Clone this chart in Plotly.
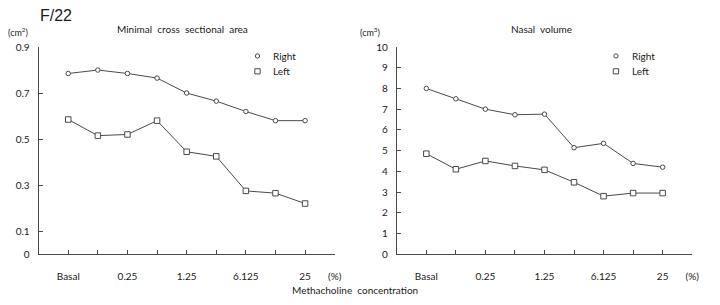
import plotly.graph_objects as go

# ---- data ----
positions = [1, 2, 3, 4, 5, 6, 7, 8, 9]
tick_positions = [1, 3, 5, 7, 9, 10]
tick_labels = ["Basal", "0.25", "1.25", "6.125", "25", "(%)"]

mcsa_right = [0.785, 0.80, 0.785, 0.765, 0.70, 0.665, 0.62, 0.58, 0.58]
mcsa_left = [0.585, 0.515, 0.52, 0.58, 0.445, 0.425, 0.275, 0.265, 0.22]

vol_right = [8.0, 7.5, 7.0, 6.73, 6.76, 5.14, 5.35, 4.38, 4.2]
vol_left = [4.85, 4.1, 4.5, 4.26, 4.07, 3.47, 2.8, 2.95, 2.95]

mcsa_ticks = [0, 0.1, 0.3, 0.5, 0.7, 0.9]
vol_ticks = [0, 1, 2, 3, 4, 5, 6, 7, 8, 9, 10]
series_names = ["Right", "Left"]

FONT = "Lato"
LINE = "#4a4a4a"
W, H = 720, 305
fig = go.Figure()

def add_series(x, y, xa, ya, symbol, size):
    fig.add_trace(go.Scatter(
        x=x, y=y, xaxis=xa, yaxis=ya, mode="lines+markers",
        line=dict(color=LINE, width=1),
        marker=dict(symbol=symbol, size=size, color="white",
                    line=dict(color=LINE, width=1)),
        showlegend=False, hoverinfo="skip"))

add_series(positions, mcsa_right, "x", "y", "circle", 4.5)
add_series(positions, mcsa_left, "x", "y", "square", 5.5)
add_series(positions, vol_right, "x2", "y2", "circle", 4.5)
add_series(positions, vol_left, "x2", "y2", "square", 5.5)

xcommon = dict(range=[0, 10], tickmode="array", tickvals=tick_positions,
               ticktext=tick_labels, ticks="inside", ticklen=4,
               tickcolor=LINE, showline=True, linecolor=LINE, linewidth=1,
               showgrid=False, zeroline=False, ticklabelstandoff=13,
               minor=dict(ticks="inside", ticklen=4, tickcolor=LINE,
                          tick0=0, dtick=1, showgrid=False),
               tickfont=dict(family=FONT, size=10, color="#1a1a1a"))
ycommon = dict(ticks="inside", ticklen=4, tickcolor=LINE, showline=True,
               linecolor=LINE, linewidth=1, showgrid=False, zeroline=False,
               ticklabelstandoff=6,
               tickfont=dict(family=FONT, size=10, color="#1a1a1a"))

fig.update_layout(
    width=W, height=H, margin=dict(l=0, r=0, t=0, b=0),
    paper_bgcolor="white", plot_bgcolor="white", showlegend=False,
    xaxis=dict(domain=[0.0542, 0.4694], anchor="y", **xcommon),
    yaxis=dict(domain=[0.153, 0.86], anchor="x", range=[0, 0.9],
               tickvals=mcsa_ticks, ticktext=["0", "0.1", "0.3", "0.5", "0.7", "0.9"],
               **ycommon),
    xaxis2=dict(domain=[0.5565, 0.9708], anchor="y2", **xcommon),
    yaxis2=dict(domain=[0.153, 0.86], anchor="x2", range=[0, 10],
                tickvals=vol_ticks, **ycommon),
)

def ann(text, x, y, size=10, xanchor="center", family=FONT):
    fig.add_annotation(text=text, x=x / W, y=1 - y / H, xref="paper",
                       yref="paper", showarrow=False, xanchor=xanchor,
                       yanchor="middle",
                       font=dict(family=family, size=size, color="#1a1a1a"))

ann("F/22", 38, 10, size=16, xanchor="left", family="Liberation Sans")
ann("Minimal  cross  sectional  area", 184, 24)
ann("Nasal  volume", 547, 24)
ann("(cm<sup>2</sup>)", 6, 27, size=9, xanchor="left")
ann("(cm<sup>3</sup>)", 362, 27, size=9, xanchor="left")
ann("Methacholine  concentration", 358, 296)

# legend keys (symbol + label) for each panel
for lx in (260, 622):
    for i, name in enumerate(series_names):
        cy = 52 + 16 * i
        if name == "Right":
            fig.add_shape(type="circle", xref="paper", yref="paper",
                          x0=(lx - 2.2) / W, x1=(lx + 2.2) / W,
                          y0=1 - (cy + 2.2) / H, y1=1 - (cy - 2.2) / H,
                          line=dict(color=LINE, width=1), fillcolor="white")
        else:
            fig.add_shape(type="rect", xref="paper", yref="paper",
                          x0=(lx - 2.7) / W, x1=(lx + 2.7) / W,
                          y0=1 - (cy + 2.7) / H, y1=1 - (cy - 2.7) / H,
                          line=dict(color=LINE, width=1), fillcolor="white")
        ann(name, lx + 14, cy, xanchor="left")

fig.write_html("out.html")
